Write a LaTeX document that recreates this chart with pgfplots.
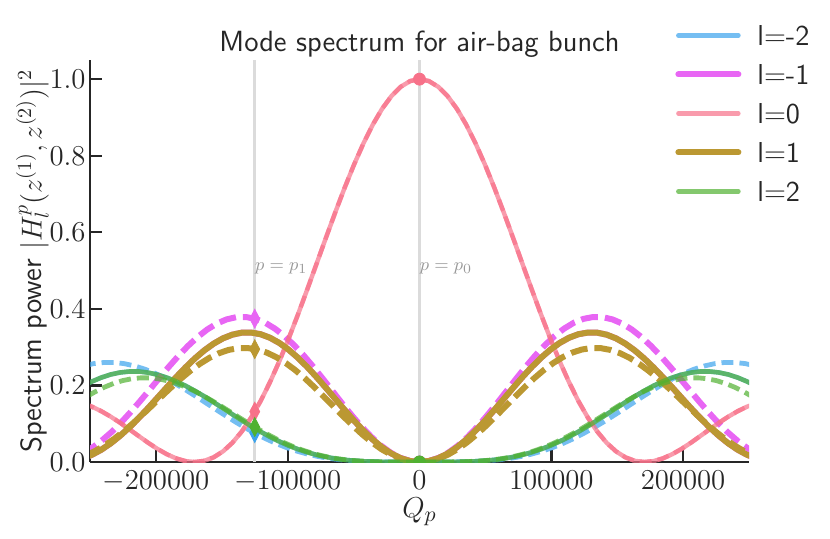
\documentclass[border=0pt]{standalone}
\usepackage{pgfplots}
\pgfplotsset{compat=1.18}
\usepackage{pgfplotstable}
\definecolor{cblue}{HTML}{3BA3EC}
\definecolor{cmag}{HTML}{E866F4}
\definecolor{cpink}{HTML}{F77189}
\definecolor{cgold}{HTML}{BB9832}
\definecolor{cgreen}{HTML}{50B131}
\definecolor{txt}{HTML}{262626}

% solid curves |H_l|^2 for l=0, |l|=1, |l|=2
\pgfplotstableread{
Q j0 j1 j2
-255600 0.1535 0.0091 0.1979
-248500 0.1445 0.0189 0.2103
-241400 0.1327 0.0321 0.2206
-234300 0.1185 0.0487 0.2286
-227200 0.1025 0.0683 0.2338
-220100 0.0853 0.0905 0.2364
-213000 0.0677 0.1150 0.2364
-205900 0.0503 0.1409 0.2335
-198800 0.0342 0.1679 0.2281
-191700 0.0203 0.1950 0.2204
-184600 0.0094 0.2217 0.2107
-177500 0.0023 0.2471 0.1990
-170400 0.0000 0.2706 0.1858
-163300 0.0031 0.2915 0.1714
-156200 0.0122 0.3091 0.1561
-149100 0.0278 0.3230 0.1403
-142000 0.0501 0.3326 0.1245
-134900 0.0794 0.3378 0.1089
-127800 0.1156 0.3381 0.0937
-120700 0.1584 0.3339 0.0794
-113600 0.2074 0.3248 0.0660
-106500 0.2619 0.3113 0.0539
-99400 0.3214 0.2937 0.0429
-92300 0.3845 0.2725 0.0335
-85200 0.4504 0.2483 0.0254
-78100 0.5178 0.2218 0.0187
-71000 0.5855 0.1937 0.0132
-63900 0.6521 0.1648 0.0089
-56800 0.7162 0.1360 0.0057
-49700 0.7765 0.1082 0.0035
-42600 0.8317 0.0822 0.0019
-35500 0.8808 0.0587 0.0009
-28400 0.9224 0.0384 0.0004
-21300 0.9557 0.0220 0.0001
-14200 0.9801 0.0099 0.0000
-7100 0.9950 0.0025 0.0000
0 1.0000 0.0000 0.0000
7100 0.9950 0.0025 0.0000
14200 0.9801 0.0099 0.0000
21300 0.9557 0.0220 0.0001
28400 0.9224 0.0384 0.0004
35500 0.8808 0.0587 0.0009
42600 0.8317 0.0822 0.0019
49700 0.7765 0.1082 0.0035
56800 0.7162 0.1360 0.0057
63900 0.6521 0.1648 0.0089
71000 0.5855 0.1937 0.0132
78100 0.5178 0.2218 0.0187
85200 0.4504 0.2483 0.0254
92300 0.3845 0.2725 0.0335
99400 0.3214 0.2937 0.0429
106500 0.2619 0.3113 0.0539
113600 0.2074 0.3248 0.0660
120700 0.1584 0.3339 0.0794
127800 0.1156 0.3381 0.0937
134900 0.0794 0.3378 0.1089
142000 0.0501 0.3326 0.1245
149100 0.0278 0.3230 0.1403
156200 0.0122 0.3091 0.1561
163300 0.0031 0.2915 0.1714
170400 0.0000 0.2706 0.1858
177500 0.0023 0.2471 0.1990
184600 0.0094 0.2217 0.2107
191700 0.0203 0.1950 0.2204
198800 0.0342 0.1679 0.2281
205900 0.0503 0.1409 0.2335
213000 0.0677 0.1150 0.2364
220100 0.0853 0.0905 0.2364
227200 0.1025 0.0683 0.2338
234300 0.1185 0.0487 0.2286
241400 0.1327 0.0321 0.2206
248500 0.1445 0.0189 0.2103
255600 0.1535 0.0091 0.1979
}\solid

% dashed l=-1
\pgfplotstableread{
Q y
-256186 0.0211
-248866 0.0360
-241547 0.0546
-234227 0.0765
-226908 0.1014
-219588 0.1288
-212268 0.1578
-204949 0.1880
-197629 0.2184
-190310 0.2482
-182990 0.2768
-175670 0.3031
-168351 0.3265
-161031 0.3462
-153712 0.3617
-146392 0.3725
-139072 0.3783
-131753 0.3787
-124433 0.3739
-117114 0.3638
-109794 0.3486
-102474 0.3289
-95155 0.3052
-87835 0.2781
-80516 0.2484
-73196 0.2169
-65876 0.1845
-58557 0.1523
-51237 0.1212
-43918 0.0921
-36598 0.0658
-29278 0.0430
-21959 0.0246
-14639 0.0111
-7320 0.0028
0 0.0000
7320 0.0028
14639 0.0111
21959 0.0246
29278 0.0430
36598 0.0658
43918 0.0921
51237 0.1212
58557 0.1523
65876 0.1845
73196 0.2169
80516 0.2484
87835 0.2781
95155 0.3052
102474 0.3289
109794 0.3486
117114 0.3638
124433 0.3739
131753 0.3787
139072 0.3783
146392 0.3725
153712 0.3617
161031 0.3462
168351 0.3265
175670 0.3031
182990 0.2768
190310 0.2482
197629 0.2184
204949 0.1880
212268 0.1578
219588 0.1288
226908 0.1014
234227 0.0765
241547 0.0546
248866 0.0360
256186 0.0211
}\dmone

% dashed l=1
\pgfplotstableread{
Q y
-253572 0.0166
-246327 0.0283
-239082 0.0429
-231837 0.0601
-224592 0.0797
-217347 0.1012
-210102 0.1240
-202857 0.1477
-195612 0.1716
-188367 0.1951
-181123 0.2175
-173878 0.2381
-166633 0.2565
-159388 0.2720
-152143 0.2842
-144898 0.2927
-137653 0.2973
-130408 0.2976
-123163 0.2938
-115918 0.2858
-108674 0.2739
-101429 0.2584
-94184 0.2398
-86939 0.2185
-79694 0.1951
-72449 0.1704
-65204 0.1450
-57959 0.1197
-50714 0.0953
-43469 0.0723
-36225 0.0517
-28980 0.0338
-21735 0.0194
-14490 0.0087
-7245 0.0022
0 0.0000
7245 0.0022
14490 0.0087
21735 0.0194
28980 0.0338
36225 0.0517
43469 0.0723
50714 0.0953
57959 0.1197
65204 0.1450
72449 0.1704
79694 0.1951
86939 0.2185
94184 0.2398
101429 0.2584
108674 0.2739
115918 0.2858
123163 0.2938
130408 0.2976
137653 0.2973
144898 0.2927
152143 0.2842
159388 0.2720
166633 0.2565
173878 0.2381
181123 0.2175
188367 0.1951
195612 0.1716
202857 0.1477
210102 0.1240
217347 0.1012
224592 0.0797
231837 0.0601
239082 0.0429
246327 0.0283
253572 0.0166
}\dpone

% dashed l=-2
\pgfplotstableread{
Q y
-254674 0.2514
-246957 0.2571
-239239 0.2600
-231522 0.2600
-223805 0.2568
-216087 0.2509
-208370 0.2425
-200652 0.2317
-192935 0.2189
-185218 0.2043
-177500 0.1885
-169783 0.1717
-162065 0.1544
-154348 0.1369
-146631 0.1198
-138913 0.1031
-131196 0.0874
-123478 0.0727
-115761 0.0593
-108044 0.0472
-100326 0.0368
-92609 0.0280
-84891 0.0205
-77174 0.0145
-69457 0.0098
-61739 0.0063
-54022 0.0038
-46304 0.0021
-38587 0.0010
-30870 0.0004
-23152 0.0001
-15435 0.0000
-7717 0.0000
0 0.0000
7717 0.0000
15435 0.0000
23152 0.0001
30870 0.0004
38587 0.0010
46304 0.0021
54022 0.0038
61739 0.0063
69457 0.0098
77174 0.0145
84891 0.0205
92609 0.0280
100326 0.0368
108044 0.0472
115761 0.0593
123478 0.0727
131196 0.0874
138913 0.1031
146631 0.1198
154348 0.1369
162065 0.1544
169783 0.1717
177500 0.1885
185218 0.2043
192935 0.2189
200652 0.2317
208370 0.2425
216087 0.2509
223805 0.2568
231522 0.2600
239239 0.2600
246957 0.2571
254674 0.2514
}\dmtwo

% dashed l=2
\pgfplotstableread{
Q y
-252595 0.1706
-245768 0.1841
-238942 0.1956
-232115 0.2052
-225288 0.2126
-218461 0.2174
-211634 0.2198
-204807 0.2198
-197980 0.2171
-191153 0.2121
-184326 0.2050
-177499 0.1959
-170673 0.1851
-163846 0.1728
-157019 0.1594
-150192 0.1452
-143365 0.1305
-136538 0.1158
-129711 0.1013
-122884 0.0871
-116057 0.0739
-109230 0.0614
-102404 0.0501
-95577 0.0399
-88750 0.0311
-81923 0.0236
-75096 0.0174
-68269 0.0123
-61442 0.0083
-54615 0.0053
-47788 0.0032
-40961 0.0018
-34135 0.0009
-27308 0.0004
-20481 0.0001
-13654 0.0000
-6827 0.0000
0 0.0000
6827 0.0000
13654 0.0000
20481 0.0001
27308 0.0004
34135 0.0009
40961 0.0018
47788 0.0032
54615 0.0053
61442 0.0083
68269 0.0123
75096 0.0174
81923 0.0236
88750 0.0311
95577 0.0399
102404 0.0501
109230 0.0614
116057 0.0739
122884 0.0871
129711 0.1013
136538 0.1158
143365 0.1305
150192 0.1452
157019 0.1594
163846 0.1728
170673 0.1851
177499 0.1959
184326 0.2050
191153 0.2121
197980 0.2171
204807 0.2198
211634 0.2198
218461 0.2174
225288 0.2126
232115 0.2052
238942 0.1956
245768 0.1841
252595 0.1706
}\dptwo

\begin{document}
\begin{tikzpicture}
\useasboundingbox (0,0) rectangle (415pt,269pt);
\begin{axis}[
  at={(45pt,38pt)}, anchor=south west,
  width=329.5pt, height=201pt, scale only axis,
  xmin=-250000, xmax=250000, ymin=0, ymax=1.05,
  axis lines=left,
  axis line style={-, line width=0.9pt, draw=txt},
  x axis line style={-}, y axis line style={-},
  tick align=inside, major tick length=6pt,
  tick style={line width=1.2pt, draw=txt},
  xtick={-200000,-100000,0,100000,200000},
  ytick={0,0.2,0.4,0.6,0.8,1.0},
  scaled x ticks=false, scaled y ticks=false,
  xticklabel style={/pgf/number format/fixed, /pgf/number format/1000 sep={}, inner ysep=4.3pt},
  yticklabel style={/pgf/number format/fixed, /pgf/number format/fixed zerofill, /pgf/number format/precision=1, inner xsep=2pt},
  tick label style={font=\fontsize{13.5}{15}\selectfont, text=txt},
  title={Mode spectrum for air-bag bunch},
  title style={at={(axis description cs:0.5,1)}, anchor=base, yshift=-1.5pt, font=\sffamily\fontsize{14.6}{17}\selectfont, text=txt},
  xlabel={$Q_p$},
  xlabel style={at={(axis description cs:0.5,0)}, anchor=base, yshift=-27.5pt, font=\fontsize{15}{17}\selectfont, text=txt},
  ylabel={Spectrum power $|H_l^p(z^{(1)}, z^{(2)})|^2$},
  ylabel style={at={(axis description cs:-0.0736,0.5)}, anchor=base, font=\sffamily\fontsize{14.6}{17}\selectfont, text=txt},
  legend style={at={(axis description cs:0.8877,1.0871)}, anchor=north west, draw=none, fill=none,
     inner sep=0pt, row sep=9.5pt, column sep=8pt,
     font=\sffamily\fontsize{14.4}{17}\selectfont, text=txt,
     nodes={inner sep=0pt, text height=10pt, text depth=0pt}},
  legend cell align=left,
  legend image code/.code={\draw[#1, line cap=round] (0pt,0pt) -- (30pt,0pt);},
  clip marker paths=true,
]
% reference lines
\addplot[black!14, line width=1.5pt, forget plot] coordinates {(-125000,0) (-125000,1.05)};
\addplot[black!14, line width=1.5pt, forget plot] coordinates {(0,0) (0,1.05)};
\node[anchor=base west, inner sep=0pt, text=black!40, font=\fontsize{9.5}{11}\selectfont] at (axis cs:-125000,0.5) {$p=p_1$};
\node[anchor=base west, inner sep=0pt, text=black!40, font=\fontsize{9.5}{11}\selectfont] at (axis cs:0,0.5) {$p=p_0$};

% l = -2
\addplot[cblue, draw opacity=0.7, line width=2.3pt] table[x=Q, y=j2] {\solid};
\addlegendentry{l=-2}
\addplot[cblue, draw opacity=0.7, line width=2.4pt, dash pattern=on 6pt off 3pt, forget plot] table[x=Q, y=y] {\dmtwo};
\addplot[only marks, mark=diamond*, mark size=4.7pt, mark options={xscale=0.7, fill=cblue, draw=cblue}, forget plot] coordinates {(-125000,0.0756)};
\addplot[only marks, mark=*, mark size=3pt, mark options={fill=cblue, draw=cblue}, forget plot] coordinates {(0,0)};

% l = -1
\addplot[cmag, line width=3pt] table[x=Q, y=j1] {\solid};
\addlegendentry{l=-1}
\addplot[cmag, line width=3pt, dash pattern=on 8.5pt off 3.5pt, forget plot] table[x=Q, y=y] {\dmone};
\addplot[only marks, mark=diamond*, mark size=4.7pt, mark options={xscale=0.7, fill=cmag, draw=cmag}, forget plot] coordinates {(-125000,0.3743)};
\addplot[only marks, mark=*, mark size=3pt, mark options={fill=cmag, draw=cmag}, forget plot] coordinates {(0,0)};

% l = 0
\addplot[cpink, draw opacity=0.7, line width=2.2pt] table[x=Q, y=j0] {\solid};
\addlegendentry{l=0}
\addplot[cpink, draw opacity=0.7, line width=2.2pt, dash pattern=on 6pt off 3pt, forget plot] table[x=Q, y=j0] {\solid};
\addplot[only marks, mark=diamond*, mark size=4.7pt, mark options={xscale=0.7, fill=cpink, draw=cpink}, forget plot] coordinates {(-125000,0.1317)};
\addplot[only marks, mark=*, mark size=3pt, mark options={fill=cpink, draw=cpink}, forget plot] coordinates {(0,1.0)};

% l = 1
\addplot[cgold, line width=3pt] table[x=Q, y=j1] {\solid};
\addlegendentry{l=1}
\addplot[cgold, line width=3pt, dash pattern=on 8.5pt off 3.5pt, forget plot] table[x=Q, y=y] {\dpone};
\addplot[only marks, mark=diamond*, mark size=4.7pt, mark options={xscale=0.7, fill=cgold, draw=cgold}, forget plot] coordinates {(-125000,0.2947)};
\addplot[only marks, mark=*, mark size=3pt, mark options={fill=cgold, draw=cgold}, forget plot] coordinates {(0,0)};

% l = 2
\addplot[cgreen, draw opacity=0.7, line width=2.3pt] table[x=Q, y=j2] {\solid};
\addlegendentry{l=2}
\addplot[cgreen, draw opacity=0.7, line width=2.4pt, dash pattern=on 6pt off 3pt, forget plot] table[x=Q, y=y] {\dptwo};
\addplot[only marks, mark=diamond*, mark size=4.7pt, mark options={xscale=0.7, fill=cgreen, draw=cgreen}, forget plot] coordinates {(-125000,0.0915)};
\addplot[only marks, mark=*, mark size=3pt, mark options={fill=cgreen, draw=cgreen}, forget plot] coordinates {(0,0)};
\end{axis}
\end{tikzpicture}
\end{document}
